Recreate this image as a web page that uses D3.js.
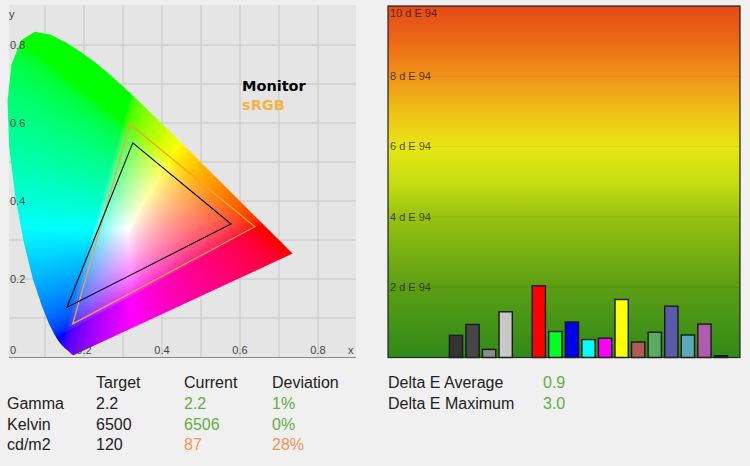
<!DOCTYPE html>
<html>
<head>
<meta charset="utf-8">
<script src="https://cdn.jsdelivr.net/npm/d3@7"></script>
<style>
body { margin: 0; background: #f0f0f0; }
svg { display: block; font-family: "Liberation Sans", Arial, sans-serif; }
</style>
</head>
<body>
<svg id="chart" width="750" height="466"></svg>
<script>
// CIE 1931 2 deg spectral locus, 380-700 nm (x, y)
var spectralLocus = [
    [0.1741, 0.0050], [0.1740, 0.0050], [0.1738, 0.0049], [0.1736, 0.0049], [0.1733, 0.0048],
    [0.1730, 0.0048], [0.1726, 0.0048], [0.1721, 0.0048], [0.1714, 0.0051], [0.1703, 0.0058],
    [0.1689, 0.0069], [0.1669, 0.0086], [0.1644, 0.0109], [0.1611, 0.0138], [0.1566, 0.0177],
    [0.1510, 0.0227], [0.1440, 0.0297], [0.1355, 0.0399], [0.1241, 0.0578], [0.1096, 0.0868],
    [0.0913, 0.1327], [0.0687, 0.2007], [0.0454, 0.2950], [0.0235, 0.4127], [0.0082, 0.5384],
    [0.0039, 0.6548], [0.0139, 0.7502], [0.0389, 0.8120], [0.0743, 0.8338], [0.1142, 0.8262],
    [0.1547, 0.8059], [0.1929, 0.7816], [0.2296, 0.7543], [0.2658, 0.7243], [0.3016, 0.6923],
    [0.3373, 0.6589], [0.3731, 0.6245], [0.4087, 0.5896], [0.4441, 0.5547], [0.4788, 0.5202],
    [0.5125, 0.4866], [0.5448, 0.4544], [0.5752, 0.4242], [0.6029, 0.3965], [0.6270, 0.3725],
    [0.6482, 0.3514], [0.6658, 0.3340], [0.6801, 0.3197], [0.6915, 0.3083], [0.7006, 0.2993],
    [0.7079, 0.2920], [0.7140, 0.2859], [0.7190, 0.2809], [0.7230, 0.2770], [0.7260, 0.2740],
    [0.7283, 0.2717], [0.7300, 0.2700], [0.7320, 0.2680], [0.7334, 0.2666], [0.7347, 0.2653]
];

var monitorGamut = [[0.325, 0.549], [0.577, 0.341], [0.156, 0.127]];
var srgbGamut = [[0.318, 0.597], [0.638, 0.334], [0.171, 0.085]];
var cieGrid = [0.1, 0.2, 0.3, 0.4, 0.5, 0.6, 0.7, 0.8];
var cieTickLabels = [0.2, 0.4, 0.6, 0.8];

var patchNames = ["Black", "Grey 20", "Grey 50", "Grey 80", "White", "Red", "Green", "Blue", "Cyan",
    "Magenta", "Yellow", "Skin", "Foliage", "Blue sky", "Bluish green", "Purple", "Dark"];
var patchDeltaE = [0.63, 0.94, 0.23, 1.30, 0, 2.04, 0.74, 1.01, 0.51,
    0.55, 1.65, 0.44, 0.72, 1.46, 0.64, 0.95, 0.05];
var patchColors = ["#333333", "#464646", "#8c8c8c", "#c8c8c8", "#ffffff", "#ff0000", "#00ff22", "#0000ee", "#00ffff",
    "#ff00ff", "#ffff00", "#b25a5a", "#5aaa64", "#5a5aaa", "#5aaabb", "#b05ab0", "#111111"];
var deTicks = [2, 4, 6, 8, 10];

var tableHeaders = ["Target", "Current", "Deviation"];
var rowLabels = ["Gamma", "Kelvin", "cd/m2"];
var targetValues = ["2.2", "6500", "120"];
var currentValues = ["2.2", "6506", "87"];
var deviationValues = ["1%", "0%", "28%"];
var rowOk = [true, true, false];
var deltaLabels = ["Delta E Average", "Delta E Maximum"];
var deltaValues = ["0.9", "3.0"];

var GREEN = "#5fae45", ORANGE = "#f29556";

var svg = d3.select("#chart");

// ---------- CIE diagram ----------
var cieX = d3.scaleLinear().domain([0, 0.9]).range([6, 357]);
var cieY = d3.scaleLinear().domain([0, 0.9]).range([357, 6]);

var cie = svg.append("g");

cie.append("rect")
    .attr("x", 9).attr("y", 5)
    .attr("width", 347).attr("height", 352)
    .attr("fill", "#e5e5e5");

cie.selectAll(".vgrid")
    .data(cieGrid)
    .enter()
    .append("line")
    .attr("x1", function(d) { return cieX(d); })
    .attr("x2", function(d) { return cieX(d); })
    .attr("y1", 5).attr("y2", 357)
    .attr("stroke", "#c6c6c6");

cie.selectAll(".hgrid")
    .data(cieGrid)
    .enter()
    .append("line")
    .attr("y1", function(d) { return cieY(d); })
    .attr("y2", function(d) { return cieY(d); })
    .attr("x1", 9).attr("x2", 356)
    .attr("stroke", "#c6c6c6");

// colour fill of the horseshoe, rendered per pixel and clipped to the locus
var imgW = 362, imgH = 362;
var canvas = document.createElement("canvas");
canvas.width = imgW;
canvas.height = imgH;
var ctx = canvas.getContext("2d");
var img = ctx.createImageData(imgW, imgH);

function gammaEncode(c) {
    return c <= 0.0031308 ? 12.92 * c : 1.055 * Math.pow(c, 1 / 2.4) - 0.055;
}

for (var j = 0; j < imgH; j++) {
    for (var i = 0; i < imgW; i++) {
        var cx = cieX.invert(i + 0.5), cy = cieY.invert(j + 0.5);
        if (cy < 0.002) cy = 0.002;
        var X = cx / cy, Y = 1, Z = (1 - cx - cy) / cy;
        var r = 3.2406 * X - 1.5372 * Y - 0.4986 * Z;
        var g = -0.9689 * X + 1.8758 * Y + 0.0415 * Z;
        var b = 0.0557 * X - 0.2040 * Y + 1.0570 * Z;
        r = Math.max(r, 0); g = Math.max(g, 0); b = Math.max(b, 0);
        var m = Math.max(r, g, b) || 1;
        var k = (j * imgW + i) * 4;
        img.data[k] = 255 * gammaEncode(r / m);
        img.data[k + 1] = 255 * gammaEncode(g / m);
        img.data[k + 2] = 255 * gammaEncode(b / m);
        img.data[k + 3] = 255;
    }
}
ctx.putImageData(img, 0, 0);

var polyLine = d3.line()
    .x(function(d) { return cieX(d[0]); })
    .y(function(d) { return cieY(d[1]); });

svg.append("defs").append("clipPath")
    .attr("id", "locusClip")
    .append("path")
    .attr("d", polyLine(spectralLocus) + "Z");

cie.append("image")
    .attr("x", 0).attr("y", 0)
    .attr("width", imgW).attr("height", imgH)
    .attr("href", canvas.toDataURL())
    .attr("clip-path", "url(#locusClip)");

cie.append("path")
    .attr("d", polyLine(srgbGamut) + "Z")
    .attr("fill", "none")
    .attr("stroke", "#f0a346")
    .attr("stroke-width", 1.3);

cie.append("path")
    .attr("d", polyLine(monitorGamut) + "Z")
    .attr("fill", "none")
    .attr("stroke", "#000")
    .attr("stroke-width", 1.1);

cie.append("line")
    .attr("x1", 9).attr("x2", 356)
    .attr("y1", 357.5).attr("y2", 357.5)
    .attr("stroke", "#8a8a8a");

cie.selectAll(".xlab")
    .data(cieTickLabels)
    .enter()
    .append("text")
    .attr("x", function(d) { return cieX(d); })
    .attr("y", 354)
    .attr("text-anchor", "middle")
    .attr("font-size", 11)
    .attr("fill", "#444")
    .text(function(d) { return d; });

cie.selectAll(".ylab")
    .data(cieTickLabels)
    .enter()
    .append("text")
    .attr("x", 10)
    .attr("y", function(d) { return cieY(d); })
    .attr("dy", "0.35em")
    .attr("font-size", 11)
    .attr("fill", "#444")
    .text(function(d) { return d; });

cie.append("text").attr("x", 10).attr("y", 354).attr("font-size", 11).attr("fill", "#444").text("0");
cie.append("text").attr("x", 348).attr("y", 354).attr("font-size", 11).attr("fill", "#444").text("x");
cie.append("text").attr("x", 9).attr("y", 18).attr("font-size", 11).attr("fill", "#444").text("y");

cie.append("text")
    .attr("x", 242).attr("y", 91)
    .attr("font-family", "DejaVu Sans").attr("font-weight", "bold").attr("font-size", 14.5)
    .attr("fill", "#000")
    .text("Monitor");

cie.append("text")
    .attr("x", 242).attr("y", 110)
    .attr("font-family", "DejaVu Sans").attr("font-weight", "bold").attr("font-size", 14.5)
    .attr("fill", "#f2b443")
    .text("sRGB");

// ---------- Delta E bar chart ----------
var deX = d3.scaleBand()
    .domain(patchNames)
    .range([447.7, 729.3])
    .paddingInner(0.2)
    .paddingOuter(0.1);
var deY = d3.scaleLinear().domain([0, 10]).range([357.5, 6]);

var grad = svg.select("defs").append("linearGradient")
    .attr("id", "deGrad")
    .attr("x1", 0).attr("y1", 0).attr("x2", 0).attr("y2", 1);
[[0, "#e34a18"], [0.1, "#ec6a15"], [0.2, "#f09318"], [0.3, "#eec015"], [0.4, "#e8e613"],
 [0.5, "#c8de10"], [0.6, "#98c212"], [0.7, "#78b012"], [0.8, "#5c9e14"], [1, "#2f8a18"]]
    .forEach(function(s) {
        grad.append("stop").attr("offset", s[0]).attr("stop-color", s[1]);
    });

var de = svg.append("g");

de.append("rect")
    .attr("x", 388).attr("y", deY(10))
    .attr("width", 352).attr("height", deY(0) - deY(10))
    .attr("fill", "url(#deGrad)");

de.selectAll(".degrid")
    .data(deTicks.slice(0, 4))
    .enter()
    .append("line")
    .attr("x1", 388).attr("x2", 740)
    .attr("y1", function(d) { return deY(d); })
    .attr("y2", function(d) { return deY(d); })
    .attr("stroke", "rgba(0,0,0,0.07)");

de.selectAll(".delab")
    .data(deTicks)
    .enter()
    .append("text")
    .attr("x", 390)
    .attr("y", function(d) { return Math.max(deY(d), 13); })
    .attr("dy", "0.35em")
    .attr("font-size", 11)
    .attr("fill", "rgba(40,20,0,0.75)")
    .text(function(d) { return d + " d E 94"; });

de.selectAll(".deBar")
    .data(patchNames.filter(function(d, i) { return patchDeltaE[i] > 0; }))
    .enter()
    .append("rect")
    .attr("class", "deBar")
    .attr("x", function(d) { return deX(d); })
    .attr("y", function(d) { return deY(patchDeltaE[patchNames.indexOf(d)]); })
    .attr("width", deX.bandwidth())
    .attr("height", function(d) { return deY(0) - deY(patchDeltaE[patchNames.indexOf(d)]); })
    .attr("fill", function(d) { return patchColors[patchNames.indexOf(d)]; })
    .attr("stroke", "#1a1a1a")
    .attr("stroke-width", 1.4);

de.append("rect")
    .attr("x", 388).attr("y", deY(10))
    .attr("width", 352).attr("height", deY(0) - deY(10))
    .attr("fill", "none")
    .attr("stroke", "#222")
    .attr("stroke-width", 1.2);

// ---------- text table ----------
var colX = [96, 184, 272];
var rowY = [409, 430, 450];
var table = svg.append("g").attr("font-size", 16).attr("fill", "#222");

table.selectAll(".hdr")
    .data(tableHeaders)
    .enter()
    .append("text")
    .attr("x", function(d, i) { return colX[i]; })
    .attr("y", 388)
    .text(function(d) { return d; });

rowLabels.forEach(function(label, i) {
    table.append("text").attr("x", 7).attr("y", rowY[i]).text(label);
    table.append("text").attr("x", colX[0]).attr("y", rowY[i]).text(targetValues[i]);
    table.append("text").attr("x", colX[1]).attr("y", rowY[i])
        .attr("fill", rowOk[i] ? GREEN : ORANGE).text(currentValues[i]);
    table.append("text").attr("x", colX[2]).attr("y", rowY[i])
        .attr("fill", rowOk[i] ? GREEN : ORANGE).text(deviationValues[i]);
});

deltaLabels.forEach(function(label, i) {
    table.append("text").attr("x", 388).attr("y", 388 + 21 * i).text(label);
    table.append("text").attr("x", 543).attr("y", 388 + 21 * i).attr("fill", GREEN).text(deltaValues[i]);
});
</script>
</body>
</html>
